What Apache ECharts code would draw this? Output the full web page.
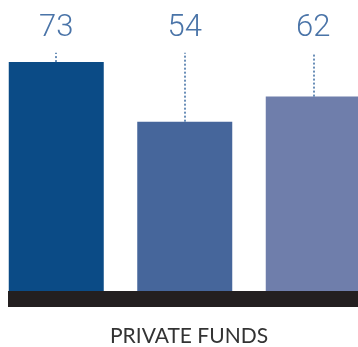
<!DOCTYPE html>
<html>
<head>
<meta charset="utf-8">
<script src="https://cdn.jsdelivr.net/npm/echarts@6/dist/echarts.min.js"></script>
<style>
  html, body { margin: 0; padding: 0; background: #fff; }
  #chart { width: 358px; height: 347px; }
</style>
</head>
<body>
<div id="chart"></div>
<script>
// 数据
const categories = ["Fund 1", "Fund 2", "Fund 3"];
const values = [73, 54, 62];
const barColors = ["#0b4b86", "#46669b", "#6f7eab"];
const groupLabel = "PRIVATE FUNDS";
const leaderTop = 76; // dotted leader lines end here (value units)

const chart = echarts.init(document.getElementById("chart"));

const option = {
  animation: false,
  title: {
    text: groupLabel,
    left: 105,
    top: 321,
    textStyle: {
      fontFamily: "Lato",
      fontWeight: "normal",
      fontSize: 21,
      color: "#333333",
    },
  },
  grid: [
    { left: -8, right: -19.5, top: 0, bottom: 56, outerBoundsMode: "none" },
    { left: 8, right: 0, top: 0, bottom: 56, outerBoundsMode: "none" },
  ],
  xAxis: [
    {
      type: "category",
      gridIndex: 0,
      data: categories,
      axisLine: { show: false },
      axisTick: { show: false },
      axisLabel: { show: false },
    },
    {
      // 底部黑色条
      type: "category",
      gridIndex: 1,
      data: [],
      offset: 8,
      axisLine: {
        onZero: false,
        lineStyle: { color: "#231f20", width: 16, cap: "butt" },
      },
      axisTick: { show: false },
      axisLabel: { show: false },
    },
  ],
  yAxis: [
    { type: "value", gridIndex: 0, min: 0, max: 92.8, show: false },
    { type: "value", gridIndex: 1, min: 0, max: 92.8, show: false },
  ],
  series: [
    {
      type: "bar",
      xAxisIndex: 0,
      yAxisIndex: 0,
      barWidth: 95,
      data: values.map((v, i) => ({
        value: v,
        itemStyle: { color: barColors[i] },
      })),
      markLine: {
        silent: true,
        symbol: "none",
        lineStyle: { type: [2, 2], color: "#3b6ba1", width: 1.5 },
        label: {
          show: true,
          position: "end",
          distance: 9,
          formatter: "{b}",
          fontFamily: "Roboto",
          fontWeight: 300,
          fontSize: 31,
          color: "#4a74a8",
        },
        data: values.map((v, i) => [
          { name: String(v), coord: [categories[i], v] },
          { coord: [categories[i], leaderTop] },
        ]),
      },
    },
  ],
};

chart.setOption(option);
</script>
</body>
</html>
